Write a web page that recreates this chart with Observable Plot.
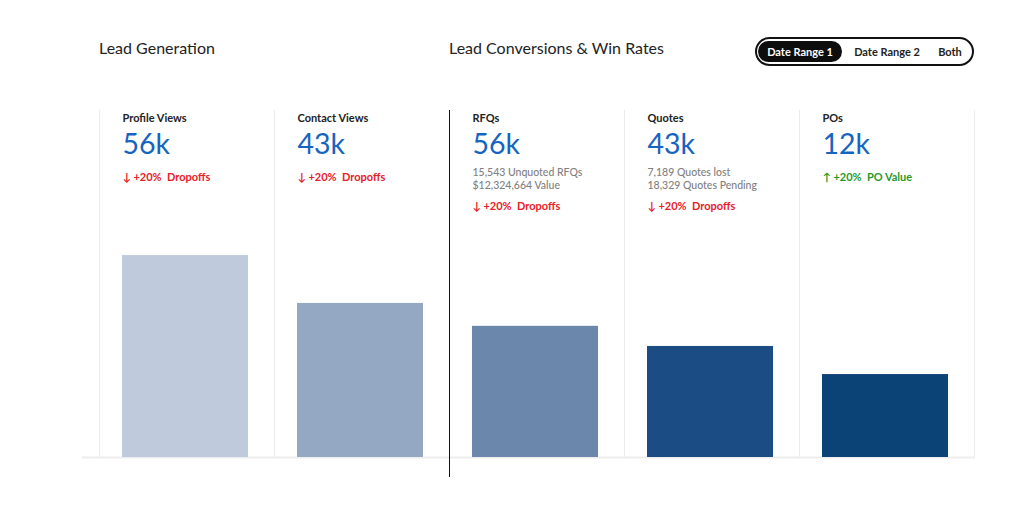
<!DOCTYPE html>
<html>
<head>
<meta charset="utf-8">
<script src="https://cdn.jsdelivr.net/npm/d3@7"></script>
<script src="https://cdn.jsdelivr.net/npm/@observablehq/plot@0.6"></script>
<style>
  html, body { margin: 0; padding: 0; background: #fff; font-family: Lato, "Open Sans", sans-serif; }
  #wrap { width: 1024px; height: 511px; overflow: hidden; }
  #header { position: relative; width: 1024px; height: 100px; }
  .section-title { position: absolute; top: 38px; font-size: 16px; color: #222; line-height: 20px; }
  #toggle { position: absolute; left: 755px; top: 37px; width: 215px; height: 25px; border: 2px solid #111; border-radius: 15px; }
  .opt { position: absolute; top: 2px; height: 21px; line-height: 21px; font-size: 11px; font-weight: 700; color: #222; text-align: center; border-radius: 11px; }
  .opt.active { background: #0d0d0d; color: #fff; }
  svg { display: block; }
</style>
</head>
<body>
<div id="wrap">
  <div id="header"></div>
  <div id="chart"></div>
</div>
<script>
// ---- data ----
const categories = ["Profile Views", "Contact Views", "RFQs", "Quotes", "POs"];
const headlines = ["56k", "43k", "56k", "43k", "12k"];
const barValues = [58.2, 44.4, 37.8, 32.0, 23.9];
const detailLine1 = ["", "", "15,543 Unquoted RFQs", "7,189 Quotes lost", ""];
const detailLine2 = ["", "", "$12,324,664 Value", "18,329 Quotes Pending", ""];
const changeValues = ["+20%", "+20%", "+20%", "+20%", "+20%"];
const changeLabels = ["Dropoffs", "Dropoffs", "Dropoffs", "Dropoffs", "PO Value"];
const changeDirection = ["down", "down", "down", "down", "up"];
const barColors = ["#bfcadc", "#94a8c4", "#6b87ab", "#1b4c84", "#0b4377"];
const sectionTitles = ["Lead Generation", "Lead Conversions & Win Rates"];
const sectionStarts = [0, 2];
const toggleOptions = ["Date Range 1", "Date Range 2", "Both"];

// ---- derived table ----
const data = categories.map((c, i) => ({
  i, category: c, headline: headlines[i], value: barValues[i],
  d1: detailLine1[i], d2: detailLine2[i],
  hasDetail: detailLine1[i] !== "",
  change: (changeDirection[i] === "up" ? "\u2191" : "\u2193") + " " + changeValues[i] + "\u00a0 " + changeLabels[i],
  up: changeDirection[i] === "up",
  color: barColors[i]
}));
const withDetail = data.filter(d => d.hasDetail);
const withoutDetail = data.filter(d => !d.hasDetail);

const colStart = 99, colWidth = 175;
const x0 = colStart, x1 = colStart + colWidth * categories.length;

// ---- header (HTML) ----
const header = document.getElementById("header");
sectionTitles.forEach((t, k) => {
  const d = document.createElement("div");
  d.className = "section-title";
  d.style.left = (colStart + sectionStarts[k] * colWidth) + "px";
  d.textContent = t;
  header.appendChild(d);
});
const tog = document.createElement("div");
tog.id = "toggle";
const optPos = [{left: 1, width: 84}, {left: 89, width: 82}, {left: 172, width: 42}];
toggleOptions.forEach((t, k) => {
  const o = document.createElement("div");
  o.className = "opt" + (k === 0 ? " active" : "");
  o.style.left = optPos[k].left + "px";
  o.style.width = optPos[k].width + "px";
  o.textContent = t;
  tog.appendChild(o);
});
header.appendChild(tog);

// ---- chart ----
const boundaries = d3.range(categories.length + 1);
const lightBounds = boundaries.filter(b => !sectionStarts.slice(1).includes(b));
const darkBounds = sectionStarts.slice(1);

const font = "Lato, 'Open Sans', sans-serif";
const common = { x: "i", frameAnchor: "top", dx: 23, textAnchor: "start", lineAnchor: "middle" };
const chart = Plot.plot({
  width: 1024,
  height: 411,
  marginTop: 10,
  marginBottom: 54,
  marginLeft: 82,
  marginRight: 49,
  style: { fontFamily: font, background: "#fff" },
  x: { type: "linear", domain: [0, categories.length], range: [x0, x1], axis: null },
  y: { domain: [0, 100], axis: null },
  marks: [
    Plot.ruleX(lightBounds, { x: d => d, stroke: "#ebebeb", strokeWidth: 1 }),
    Plot.ruleY([0], { stroke: "#ededed", strokeWidth: 2 }),
    Plot.rectY(data, { x1: "i", x2: d => d.i + 1, y: "value", fill: "color", insetLeft: 23, insetRight: 26 }),
    Plot.ruleX(darkBounds, { x: d => d, stroke: "#111", strokeWidth: 1, insetBottom: -20 }),
    Plot.text(data, { ...common, text: "category", dy: 8, fontSize: 11, fontWeight: 700, fill: "#222" }),
    Plot.text(data, { ...common, text: "headline", dy: 34, fontSize: 28.5, fill: "#1565c0" }),
    Plot.text(withDetail, { ...common, text: "d1", dy: 62, fontSize: 10.5, fontWeight: 500, fill: "#808080" }),
    Plot.text(withDetail, { ...common, text: "d2", dy: 75, fontSize: 10.5, fontWeight: 500, fill: "#808080" }),
    Plot.text(withoutDetail, { ...common, text: "change", dy: 67, fontSize: 11, fontWeight: 700, fill: d => d.up ? "#1f9a2a" : "#e8202a" }),
    Plot.text(withDetail, { ...common, text: "change", dy: 96, fontSize: 11, fontWeight: 700, fill: d => d.up ? "#1f9a2a" : "#e8202a" })
  ]
});
document.getElementById("chart").appendChild(chart);
</script>
</body>
</html>
